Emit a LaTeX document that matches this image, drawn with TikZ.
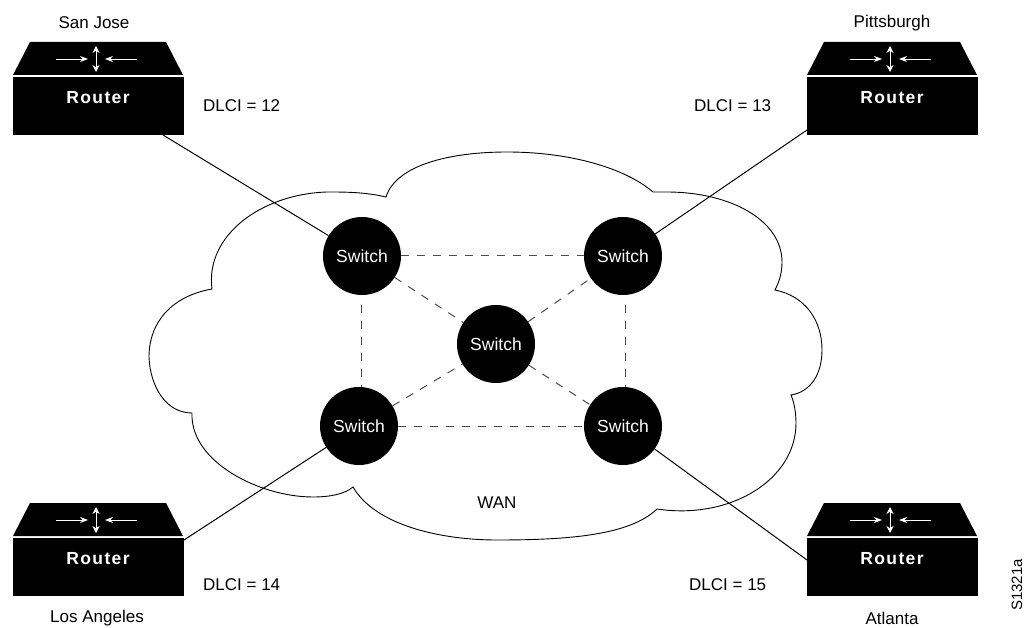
\documentclass[tikz,border=0pt]{standalone}
\usepackage{fontspec}
\setmainfont{Liberation Sans}
\usetikzlibrary{arrows.meta}
\tikzset{
  lbl/.style={font=\fontsize{17}{20}\selectfont,text=black,inner sep=0pt},
  sw/.style={circle,fill=black,draw=none,minimum size=78pt,inner sep=0pt,text=white,font=\fontsize{17.5}{20}\selectfont},
  link/.style={draw=black,line width=1pt},
  dashlink/.style={draw=black!70,line width=1pt,dash pattern=on 8pt off 8pt},
  wire/.style={draw=white,line width=0.8pt},
  pics/routerbox/.style={code={
    \fill[black] (17,0) -- (153,0) -- (170,33) -- (0,33) -- cycle;
    \fill[black] (0,35) rectangle (171,93);
    \draw[wire,-{Stealth[length=8pt,width=6pt]}] (43,17) -- (75,17);
    \draw[wire,-{Stealth[length=8pt,width=6pt]}] (124,17) -- (92,17);
    \draw[wire,{Stealth[length=7pt,width=7pt]}-{Stealth[length=7pt,width=7pt]}] (83,4) -- (83,30);
    \node[text=white,font=\fontsize{17.5}{20}\selectfont\bfseries,inner sep=0pt] at (85,56) {\addfontfeature{LetterSpace=8}Router};
  }}
}
\begin{document}
\begin{tikzpicture}[x=1pt,y=-1pt]
\useasboundingbox (0,0) rectangle (1026,628);
\fill[white] (0,0) rectangle (1026,628);
% cloud
\draw[black,line width=0.9pt] (386,197)
  .. controls (365,192) and (345,192) .. (327,192)
  .. controls (262,194) and (205,235) .. (212,289)
  .. controls (172,296) and (149,322) .. (149,357)
  .. controls (150,385) and (165,413) .. (192,413)
  .. controls (190,462) and (260,497) .. (313,497)
  .. controls (330,497) and (345,494) .. (353,487)
  .. controls (375,525) and (440,540) .. (497,540)
  .. controls (570,540) and (630,535) .. (657,509)
  .. controls (730,520) and (796,480) .. (796,423)
  .. controls (796,412) and (794,402) .. (791,395)
  .. controls (810,392) and (822,375) .. (822,350)
  .. controls (822,320) and (805,296) .. (775,290)
  .. controls (780,280) and (782,272) .. (782,262)
  .. controls (782,220) and (730,192) .. (667,192)
  -- (653,192)
  .. controls (625,168) and (570,152) .. (507,152)
  .. controls (450,152) and (396,165) .. (386,197) -- cycle;
% routers
\path (13,42) pic {routerbox};
\path (807,42) pic {routerbox};
\path (13,503) pic {routerbox};
\path (807,503) pic {routerbox};
\coordinate (rsj) at (163,135);
\coordinate (rpi) at (807,130);
\coordinate (rla) at (184,540);
\coordinate (rat) at (807,560);
% switches
\node[sw] (tl) at (362,256) {Switch};
\node[sw] (tr) at (623,256) {Switch};
\node[sw] (c)  at (496,344) {Switch};
\node[sw] (bl) at (359,426) {Switch};
\node[sw] (br) at (623,426) {Switch};
\draw[link] (rsj) -- (tl);
\draw[link] (rpi) -- (tr);
\draw[link] (rla) -- (bl);
\draw[link] (rat) -- (br);
\draw[dashlink] (tl) -- (tr);
\draw[dashlink] (bl) -- (br);
\draw[dashlink] (361,305) -- (361,387);
\draw[dashlink] (625,305) -- (625,387);
\draw[dashlink] (tl) -- (c);
\draw[dashlink] (c) -- (tr);
\draw[dashlink] (bl) -- (c);
\draw[dashlink] (c) -- (br);
% labels
\node[lbl] (n1) at (94,23) {San Jose};
\node[lbl] (n2) at (892,23) {Pittsburgh};
\node[lbl] (n3) at (97,618) {Los Angeles};
\node[lbl] (n4) at (892,618) {Atlanta};
\node[lbl,anchor=west] (d1) at (203,106) {DLCI = 12};
\node[lbl,anchor=west] (d2) at (694,106) {DLCI = 13};
\node[lbl,anchor=west] (d3) at (203,585) {DLCI = 14};
\node[lbl,anchor=west] (d4) at (689,585) {DLCI = 15};
\node[lbl] (w) at (497,503) {WAN};
\node[lbl,rotate=90,font=\fontsize{15}{16}\selectfont] (s) at (1017,585) {S1321a};
\end{tikzpicture}
\end{document}
